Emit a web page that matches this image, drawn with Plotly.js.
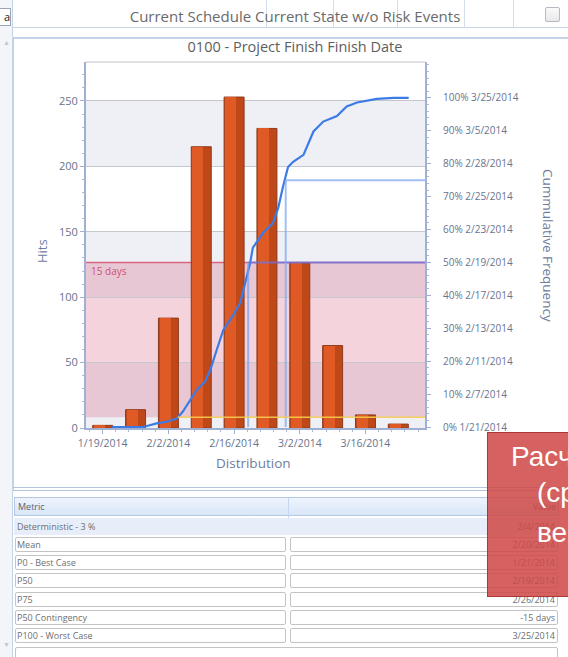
<!DOCTYPE html>
<html><head><meta charset="utf-8">
<script src="https://cdn.plot.ly/plotly-3.0.1.min.js"></script>
<style>
html,body{margin:0;padding:0;width:568px;height:657px;overflow:hidden;background:#fff;font-family:"Open Sans",sans-serif;}
.a{position:absolute;}
#chart{position:absolute;left:0;top:0;width:568px;height:657px;}
.cell{position:absolute;height:15px;border:1px solid #c4c4c4;background:#fff;border-radius:2px;box-sizing:border-box;}
.txt{position:absolute;font-size:9px;color:#6e6e6e;line-height:15px;white-space:nowrap;}
.ov{position:absolute;font-family:"Liberation Sans",Arial,sans-serif;font-size:28px;line-height:28px;color:#fff;white-space:nowrap;}
</style></head><body>
<!-- UI chrome -->
<div class="a" style="left:0;top:0;width:12px;height:657px;background:#f3f5f9;border-right:1px solid #c5d3e8;"></div>
<div class="a" style="left:0;top:8px;width:10px;height:16px;background:#fff;border:1px solid #9aa4b4;border-left:none;font-size:11px;line-height:16px;color:#222;text-align:right;overflow:hidden;">а</div>
<div class="a" style="left:3px;top:38px;font-size:7px;color:#c4c8d0;">▲</div>
<div class="a" style="left:3px;top:640px;font-size:7px;color:#c4c8d0;">▼</div>
<div class="a" style="left:13px;top:27px;width:555px;height:0;border-top:1px solid #c8d6ea;"></div>
<div class="a" style="left:266px;top:0;width:0;height:27px;border-left:1px solid #d2ddee;"></div>
<div class="a" style="left:333px;top:0;width:0;height:27px;border-left:1px solid #d2ddee;"></div>
<div class="a" style="left:397px;top:0;width:0;height:27px;border-left:1px solid #d2ddee;"></div>
<div class="a" style="left:464px;top:0;width:0;height:27px;border-left:1px solid #d2ddee;"></div>
<div class="a" style="left:513px;top:0;width:0;height:27px;border-left:1px solid #d2ddee;"></div>
<div class="a" style="left:545px;top:7px;width:13px;height:13px;border:1px solid #b4b9c2;background:linear-gradient(#fafafa,#e8e8e8);border-radius:2px;"></div>
<div class="a" style="left:90px;top:6px;width:410px;text-align:center;font-size:15px;color:#6a6a6a;">Current Schedule Current State w/o Risk Events</div>
<div class="a" style="left:13px;top:37px;width:555px;height:0;border-top:2px solid #c3d2e8;"></div>
<div class="a" style="left:13px;top:37px;width:0;height:453px;border-left:1px solid #c3d2e8;"></div>
<div class="a" style="left:13px;top:487px;width:555px;height:2px;border-top:1px solid #b4c4de;border-bottom:1px solid #b4c4de;"></div>
<div id="chart"></div>
<!-- table -->
<div id="table"></div>
<!-- overlay -->
<div class="a" style="left:487px;top:432px;width:120px;height:165px;background:rgba(206,72,70,0.86);border:1px solid rgba(170,50,50,0.9);box-sizing:border-box;z-index:10;"></div>
<div class="ov" style="left:511px;top:443px;z-index:11;">Расчет</div>
<div class="ov" style="left:537px;top:479px;z-index:11;">(средн</div>
<div class="ov" style="left:537px;top:519px;z-index:11;">вероят</div>
<script>
// ---- data ----
const binDates = ['2014-01-19','2014-01-26','2014-02-02','2014-02-09','2014-02-16','2014-02-23','2014-03-02','2014-03-09','2014-03-16','2014-03-23'];
const hits = [2, 14, 84, 215, 253, 229, 126, 63, 10, 3];
const cumDates = ['2014-01-21','2014-01-27 14:00','2014-01-28 10:00','2014-01-30 12:00','2014-02-01 14:00','2014-02-03 19:00','2014-02-05 02:00','2014-02-06 14:00','2014-02-08','2014-02-09 19:00','2014-02-10 22:00','2014-02-12 07:00','2014-02-13 17:00','2014-02-15 19:00','2014-02-17 07:00','2014-02-18 17:00','2014-02-19 10:00','2014-02-20','2014-02-22 05:00','2014-02-24 07:00','2014-02-25 10:00','2014-02-26 10:00','2014-02-27 12:00','2014-02-28 14:00','2014-03-02 19:00','2014-03-04 22:00','2014-03-07','2014-03-09 22:00','2014-03-12','2014-03-14 05:00','2014-03-18 10:00','2014-03-22','2014-03-25 05:00'];
const cumPct = [0,0,0.3,1.1,1.6,2.6,4.7,8.2,11.2,13.8,17.3,23.4,29.5,34,37.7,45.7,49.8,54.5,59,62,66.6,73,79,80.6,82.7,89.8,92.8,94.5,97.4,98.6,99.7,100,100];
const pctTicks = [0,10,20,30,40,50,60,70,80,90,100];
const pctDates = ['1/21/2014','2/7/2014','2/11/2014','2/13/2014','2/17/2014','2/19/2014','2/23/2014','2/25/2014','2/28/2014','3/5/2014','3/25/2014'];
const deterministic = {date:'2014-02-04', pct:3};
const p50 = {date:'2014-02-19', pct:50};
const p75 = {date:'2014-02-27', pct:75};
const contingencyLabel = '15 days';
const metrics = ['Deterministic - 3 %','Mean','P0 - Best Case','P50','P75','P50 Contingency','P100 - Worst Case'];
const metricValues = ['2/4/2014','2/20/2014','1/21/2014','2/19/2014','2/26/2014','-15 days','3/25/2014'];

// ---- table ----
(function(){
  const tb = document.getElementById('table');
  let html = '';
  html += '<div class="a" style="left:14px;top:497px;width:545px;height:19px;background:linear-gradient(#eef4fd,#d9e6f8);border:1px solid #b4c8e4;box-sizing:border-box;"></div>';
  html += '<div class="a" style="left:288px;top:498px;width:0;height:37px;border-left:1px solid #c6d6ee;"></div>';
  html += '<div class="txt" style="left:18px;top:499px;color:#59606e;">Metric</div>';
  html += '<div class="txt" style="left:300px;top:499px;width:256px;text-align:right;color:#59606e;">Value</div>';
  html += '<div class="a" style="left:14px;top:518px;width:545px;height:17px;background:#e7eef9;"></div>';
  const rowTops = [519, 537, 555, 573, 592, 610, 628];
  metrics.forEach((m,i)=>{
    const t = rowTops[i];
    if(i>0){
      html += '<div class="cell" style="left:15px;top:'+t+'px;width:271px;"></div>';
      html += '<div class="cell" style="left:290px;top:'+t+'px;width:268px;"></div>';
    }
    html += '<div class="txt" style="left:17px;top:'+t+'px;">'+m+'</div>';
    html += '<div class="txt" style="left:300px;top:'+t+'px;width:255px;text-align:right;">'+metricValues[i]+'</div>';
  });
  html += '<div class="cell" style="left:15px;top:647px;width:543px;height:14px;"></div>';
  tb.innerHTML = html;
})();

// ---- layout helpers ----
const xStart = '2014-01-15 10:30', xEnd = '2014-03-28 16:30';
const DAY = 86400000;
const W = 4.26*DAY;
const PX = x => (x-86)/339, PY = y => (428-y)/366;
const axisCol = '#9fb0d3', tickCol = '#68738e';

const pctText = pctTicks.map((p,i)=> p+'% '+pctDates[i]);

const traces = [
  {type:'bar', x:binDates, y:hits, width:W, marker:{color:'#bf4819', line:{color:'#8e3a1c', width:1}}, hoverinfo:'skip'},
  {type:'bar', x:binDates, y:hits, width:0.55*W, offset:-0.44*W, marker:{color:'#df5a24', line:{width:0}}, hoverinfo:'skip'},
  {type:'scatter', mode:'lines', x:cumDates, y:cumPct, yaxis:'y2', line:{color:'#3c7be6', width:2.2}, hoverinfo:'skip'}
];

const shapes = [
  {type:'rect', xref:'paper', x0:0, x1:1, yref:'y', y0:200, y1:250, fillcolor:'#eef0f6', line:{width:0}, layer:'below'},
  {type:'rect', xref:'paper', x0:0, x1:1, yref:'y', y0:100, y1:150, fillcolor:'#eef0f6', line:{width:0}, layer:'below'},
  {type:'rect', xref:'paper', x0:0, x1:1, yref:'y', y0:0, y1:50, fillcolor:'#eef0f6', line:{width:0}, layer:'below'},
  {type:'rect', xref:'paper', x0:0, x1:1, yref:'y2', y0:deterministic.pct, y1:p50.pct, fillcolor:'rgba(215,70,110,0.24)', line:{width:0}, layer:'below'},
  {type:'line', xref:'paper', x0:0, x1:1, yref:'y2', y0:p50.pct, y1:p50.pct, line:{color:'#d9647f', width:1.5}, layer:'below'},
  {type:'line', xref:'x', x0:p50.date, x1:xEnd, yref:'y2', y0:p50.pct, y1:p50.pct, line:{color:'rgba(100,120,235,0.7)', width:2}, layer:'above'},
  {type:'line', xref:'x', x0:p50.date, x1:p50.date, yref:'y2', y0:0, y1:p50.pct, line:{color:'rgba(120,160,240,0.7)', width:2}, layer:'above'},
  {type:'line', xref:'x', x0:p75.date, x1:xEnd, yref:'y2', y0:p75.pct, y1:p75.pct, line:{color:'rgba(130,170,240,0.75)', width:2}, layer:'above'},
  {type:'line', xref:'x', x0:p75.date, x1:p75.date, yref:'y2', y0:0, y1:p75.pct, line:{color:'rgba(130,170,240,0.75)', width:2}, layer:'above'},
  {type:'line', xref:'x', x0:deterministic.date, x1:xEnd, yref:'y2', y0:deterministic.pct, y1:deterministic.pct, line:{color:'rgba(245,205,80,0.9)', width:1.5}, layer:'above'},
  {type:'line', xref:'paper', x0:0, x1:1, yref:'paper', y0:1, y1:1, line:{color:'#c4c4c8', width:1}, layer:'above'}
];

const annotations = [
  {text:contingencyLabel, xref:'paper', x:0.008, xanchor:'left', yref:'y2', y:47.4, yanchor:'middle', showarrow:false, font:{size:10, color:'#d24f70', family:'Open Sans'}},
  {text:'Hits', xref:'paper', x:PX(42), xanchor:'center', yref:'paper', y:PY(251), yanchor:'middle', textangle:-90, showarrow:false, font:{size:13, color:'#6f7d9c', family:'Open Sans'}},
  {text:'Distribution', xref:'paper', x:PX(253), xanchor:'center', yref:'paper', y:PY(463), yanchor:'middle', showarrow:false, font:{size:13.5, color:'#6f7d9c', family:'Open Sans'}},
  {text:'Cummulative Frequency', xref:'paper', x:PX(548), xanchor:'center', yref:'paper', y:PY(245), yanchor:'middle', textangle:90, showarrow:false, font:{size:13.5, color:'#6f7d9c', family:'Open Sans'}}
];

const layout = {
  width:568, height:657, autosize:false,
  margin:{l:86, r:143, t:62, b:229, pad:0},
  paper_bgcolor:'rgba(0,0,0,0)', plot_bgcolor:'#ffffff',
  showlegend:false, barmode:'overlay', bargap:0,
  font:{family:'Open Sans', color:tickCol},
  title:{text:'0100 - Project Finish Finish Date', xref:'container', yref:'container', x:295/568, xanchor:'center', y:1-47/657, yanchor:'middle', font:{size:14.5, color:'#5e5e5e'}},
  xaxis:{type:'date', range:[xStart, xEnd], tick0:'2014-01-19', dtick:14*DAY, tickformat:'%-m/%-d/%Y',
    ticks:'outside', ticklen:4, tickcolor:axisCol, showline:true, linecolor:axisCol, linewidth:2, showgrid:false, zeroline:false,
    tickfont:{size:10.5, color:tickCol},
    minor:{tick0:'2014-01-19', dtick:2.8*DAY, ticks:'outside', ticklen:2, tickcolor:'#aebbd6', showgrid:false}},
  yaxis:{range:[0, 279.8], dtick:50, ticks:'outside', ticklen:4, tickcolor:axisCol, showline:true, linecolor:axisCol, linewidth:2,
    showgrid:true, gridcolor:'#c6c7cc', gridwidth:1, zeroline:false, tickfont:{size:11, color:tickCol},
    minor:{dtick:10, ticks:'outside', ticklen:2, tickcolor:'#aebbd6', showgrid:false}},
  yaxis2:{overlaying:'y', side:'right', range:[-0.3, 110.9], tickvals:pctTicks, ticktext:pctText, ticks:'outside', ticklen:4,
    tickcolor:axisCol, showline:true, linecolor:axisCol, linewidth:2, showgrid:false, zeroline:false, ticklabelstandoff:10,
    tickfont:{size:10, color:tickCol},
    minor:{dtick:2, ticks:'outside', ticklen:2, tickcolor:'#aebbd6', showgrid:false}},
  shapes:shapes, annotations:annotations
};
try {
  Plotly.newPlot('chart', traces, layout, {staticPlot:true, displayModeBar:false});
} catch(e) { console.log(e); }
</script>
</body></html>
